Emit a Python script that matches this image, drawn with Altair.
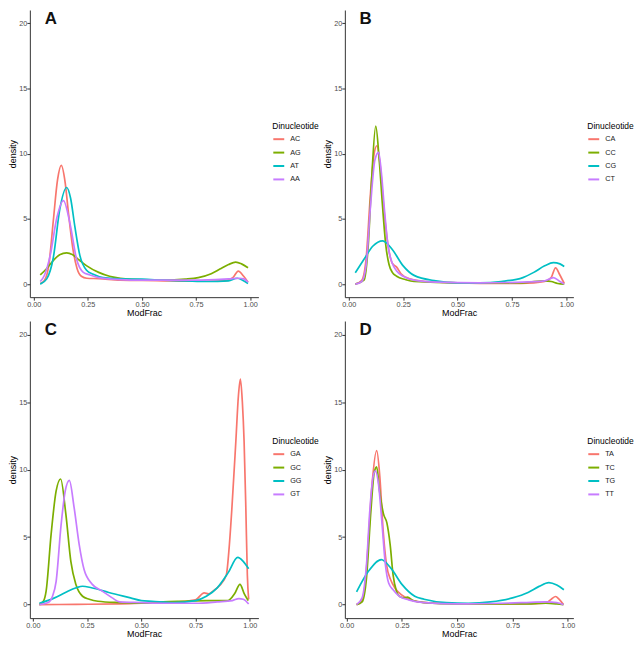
import altair as alt
import pandas as pd

COLORS = ["#F8766D", "#7CAE00", "#00BFC4", "#C77CFF"]

# ---------------- Panel A ----------------
A_NAMES = ["AC", "AG", "AT", "AA"]
AC_X = [0.03, 0.05, 0.07, 0.09, 0.11, 0.127, 0.145, 0.16, 0.18, 0.20, 0.22, 0.245, 0.30, 0.40, 0.50, 0.60, 0.70, 0.80, 0.88, 0.92, 0.945, 0.97, 0.99]
AC_Y = [0.05, 0.3, 1.5, 4.8, 8.0, 9.1, 7.8, 5.5, 2.8, 1.2, 0.6, 0.45, 0.42, 0.3, 0.28, 0.25, 0.22, 0.22, 0.25, 0.5, 1.0, 0.6, 0.15]
AG_X = [0.03, 0.06, 0.09, 0.12, 0.152, 0.18, 0.21, 0.245, 0.30, 0.35, 0.40, 0.50, 0.60, 0.70, 0.76, 0.82, 0.86, 0.90, 0.933, 0.96, 0.99]
AG_Y = [0.7, 1.2, 1.8, 2.25, 2.4, 2.25, 1.85, 1.4, 0.9, 0.6, 0.45, 0.32, 0.3, 0.38, 0.5, 0.8, 1.15, 1.5, 1.68, 1.55, 1.26]
AT_X = [0.03, 0.06, 0.09, 0.12, 0.152, 0.17, 0.19, 0.213, 0.244, 0.275, 0.32, 0.40, 0.50, 0.60, 0.70, 0.80, 0.90, 0.94, 0.965, 0.99]
AT_Y = [0.0, 0.4, 2.0, 5.7, 7.4, 6.6, 4.4, 2.2, 1.06, 0.75, 0.5, 0.4, 0.38, 0.3, 0.25, 0.2, 0.25, 0.45, 0.3, 0.05]
AA_X = [0.03, 0.05, 0.076, 0.107, 0.137, 0.168, 0.198, 0.229, 0.26, 0.30, 0.40, 0.50, 0.60, 0.75, 0.90, 0.95, 0.97, 0.99]
AA_Y = [0.2, 0.7, 2.2, 5.1, 6.4, 4.6, 1.9, 0.9, 0.7, 0.5, 0.35, 0.3, 0.3, 0.3, 0.4, 0.45, 0.4, 0.15]

# ---------------- Panel B ----------------
B_NAMES = ["CA", "CC", "CG", "CT"]
CA_X = [0.03, 0.06, 0.08, 0.10, 0.115, 0.129, 0.145, 0.16, 0.18, 0.20, 0.22, 0.24, 0.28, 0.35, 0.50, 0.70, 0.85, 0.90, 0.93, 0.95, 0.97, 0.99]
CA_Y = [0.0, 0.3, 2.0, 7.0, 9.8, 10.6, 9.0, 6.0, 3.0, 1.6, 1.3, 0.8, 0.4, 0.2, 0.1, 0.05, 0.1, 0.2, 0.5, 1.25, 0.7, 0.05]
CC_X = [0.03, 0.07, 0.09, 0.105, 0.124, 0.14, 0.155, 0.17, 0.185, 0.20, 0.22, 0.26, 0.30, 0.50, 0.80, 0.85, 0.90, 0.93, 0.96, 0.99]
CC_Y = [0.0, 0.3, 3.1, 8.0, 12.1, 9.5, 6.0, 3.0, 1.5, 0.9, 0.6, 0.35, 0.2, 0.1, 0.1, 0.2, 0.25, 0.2, 0.05, 0.0]
CG_X = [0.03, 0.07, 0.11, 0.156, 0.20, 0.25, 0.30, 0.40, 0.50, 0.60, 0.70, 0.80, 0.85, 0.90, 0.94, 0.97, 0.99]
CG_Y = [0.87, 1.9, 2.9, 3.32, 2.65, 1.4, 0.67, 0.25, 0.1, 0.1, 0.2, 0.5, 0.9, 1.4, 1.65, 1.55, 1.35]
CT_X = [0.03, 0.06, 0.08, 0.10, 0.12, 0.137, 0.15, 0.165, 0.18, 0.20, 0.22, 0.25, 0.30, 0.40, 0.60, 0.80, 0.90, 0.94, 0.97, 0.99]
CT_Y = [0.0, 0.2, 1.5, 6.0, 9.5, 10.1, 8.5, 5.5, 3.0, 1.6, 1.0, 0.6, 0.3, 0.15, 0.1, 0.15, 0.25, 0.5, 0.2, 0.0]

# ---------------- Panel C ----------------
C_NAMES = ["GA", "GC", "GG", "GT"]
GA_X = [0.03, 0.20, 0.40, 0.50, 0.60, 0.70, 0.75, 0.79, 0.81, 0.83, 0.86, 0.892, 0.905, 0.918, 0.936, 0.948, 0.957, 0.966, 0.974, 0.982, 0.989, 0.995]
GA_Y = [0.0, 0.02, 0.05, 0.1, 0.15, 0.25, 0.35, 0.87, 0.8, 1.0, 1.4, 2.2, 4.2, 7.2, 12.1, 15.5, 16.7, 15.0, 12.1, 7.2, 2.2, 0.4]
GC_X = [0.03, 0.05, 0.061, 0.084, 0.107, 0.128, 0.152, 0.175, 0.198, 0.229, 0.26, 0.30, 0.40, 0.50, 0.60, 0.70, 0.80, 0.86, 0.90, 0.93, 0.955, 0.975, 0.993]
GC_Y = [0.0, 0.3, 1.0, 5.2, 8.4, 9.3, 6.7, 3.2, 1.5, 0.62, 0.4, 0.25, 0.15, 0.1, 0.2, 0.25, 0.3, 0.3, 0.3, 0.8, 1.5, 0.8, 0.3]
GG_X = [0.03, 0.10, 0.15, 0.20, 0.229, 0.27, 0.35, 0.45, 0.50, 0.55, 0.65, 0.75, 0.80, 0.85, 0.90, 0.945, 0.97, 0.995]
GG_Y = [0.1, 0.5, 0.9, 1.25, 1.36, 1.25, 0.9, 0.5, 0.3, 0.25, 0.15, 0.3, 0.62, 1.24, 2.35, 3.5, 3.2, 2.65]
GT_X = [0.03, 0.07, 0.09, 0.107, 0.13, 0.149, 0.168, 0.19, 0.213, 0.236, 0.274, 0.32, 0.366, 0.40, 0.50, 0.60, 0.75, 0.85, 0.92, 0.95, 0.97, 0.995]
GT_Y = [0.0, 0.15, 0.6, 1.7, 5.9, 8.4, 9.2, 7.2, 4.5, 2.6, 1.5, 1.0, 0.5, 0.2, 0.15, 0.1, 0.1, 0.2, 0.3, 0.45, 0.4, 0.05]

# ---------------- Panel D ----------------
D_NAMES = ["TA", "TC", "TG", "TT"]
TA_X = [0.045, 0.07, 0.09, 0.10, 0.115, 0.136, 0.15, 0.165, 0.18, 0.20, 0.22, 0.25, 0.30, 0.40, 0.60, 0.80, 0.90, 0.925, 0.945, 0.96, 0.98]
TA_Y = [0.0, 0.3, 2.7, 5.2, 8.9, 11.4, 9.5, 5.5, 3.0, 1.8, 1.2, 0.7, 0.3, 0.1, 0.05, 0.05, 0.1, 0.4, 0.6, 0.4, 0.0]
TC_X = [0.045, 0.07, 0.09, 0.11, 0.125, 0.136, 0.149, 0.167, 0.182, 0.197, 0.21, 0.225, 0.24, 0.26, 0.275, 0.30, 0.35, 0.50, 0.80, 0.90, 0.95, 0.98]
TC_Y = [0.0, 0.2, 2.0, 7.0, 9.8, 10.2, 8.4, 6.7, 6.05, 4.4, 2.2, 1.0, 0.6, 0.5, 0.55, 0.3, 0.15, 0.05, 0.05, 0.1, 0.05, 0.0]
TG_X = [0.045, 0.10, 0.157, 0.20, 0.25, 0.308, 0.35, 0.45, 0.55, 0.65, 0.75, 0.82, 0.87, 0.914, 0.95, 0.982]
TG_Y = [0.94, 2.5, 3.33, 2.7, 1.5, 0.62, 0.4, 0.15, 0.1, 0.2, 0.5, 0.9, 1.35, 1.63, 1.45, 1.1]
TT_X = [0.045, 0.07, 0.09, 0.105, 0.12, 0.13, 0.145, 0.16, 0.175, 0.19, 0.21, 0.24, 0.28, 0.35, 0.50, 0.70, 0.80, 0.90, 0.95, 0.98]
TT_Y = [0.0, 0.5, 3.0, 7.0, 9.5, 9.9, 8.8, 6.0, 3.0, 1.6, 1.1, 0.6, 0.35, 0.15, 0.05, 0.1, 0.15, 0.2, 0.15, 0.0]

X_TICKS = [0, 0.25, 0.5, 0.75, 1.0]
Y_TICKS = [0, 5, 10, 15, 20]
FONT = "Liberation Sans"


def make_df(names, curves):
    rows = []
    for name, (xs, ys) in zip(names, curves):
        for i, (x, y) in enumerate(zip(xs, ys)):
            rows.append({"ModFrac": x, "density": y, "Dinucleotide": name, "i": i})
    return pd.DataFrame(rows)


def panel(letter, names, curves, xdom, w, h):
    df = make_df(names, curves)
    lines = alt.Chart(df).mark_line(interpolate="monotone", strokeWidth=1.7).encode(
        x=alt.X("ModFrac:Q",
                scale=alt.Scale(domain=xdom, nice=False, zero=False),
                axis=alt.Axis(values=X_TICKS, format=".2f", title="ModFrac")),
        y=alt.Y("density:Q",
                scale=alt.Scale(domain=[-1, 21], nice=False, zero=False),
                axis=alt.Axis(values=Y_TICKS, format="d", title="density")),
        color=alt.Color("Dinucleotide:N",
                        scale=alt.Scale(domain=names, range=COLORS),
                        sort=names,
                        legend=alt.Legend(orient="none", legendX=w + 14, legendY=round(h * 0.39),
                                          symbolType="stroke", symbolSize=121, symbolStrokeWidth=2,
                                          rowPadding=2.5, titlePadding=2,
                                          titleFontSize=8.5, titleFontWeight="normal", titleColor="#000",
                                          labelFontSize=7.3, labelColor="#222", labelOffset=5)),
        detail="Dinucleotide:N",
        order="i:Q",
    )
    lab = alt.Chart(pd.DataFrame({"t": [letter]})).mark_text(
        font=FONT, fontSize=17, fontWeight="bold", color="#111", align="center", baseline="alphabetic"
    ).encode(text="t:N", x=alt.value(21), y=alt.value(14))
    return alt.layer(lines, lab).properties(width=w, height=h)


W = 230
pA = panel("A", A_NAMES, [(AC_X, AC_Y), (AG_X, AG_Y), (AT_X, AT_Y), (AA_X, AA_Y)], [-0.018, 1.038], W, 289)
pB = panel("B", B_NAMES, [(CA_X, CA_Y), (CC_X, CC_Y), (CG_X, CG_Y), (CT_X, CT_Y)], [-0.018, 1.032], W, 289)
pC = panel("C", C_NAMES, [(GA_X, GA_Y), (GC_X, GC_Y), (GG_X, GG_Y), (GT_X, GT_Y)], [-0.014, 1.04], W, 299)
pD = panel("D", D_NAMES, [(TA_X, TA_Y), (TC_X, TC_Y), (TG_X, TG_Y), (TT_X, TT_Y)], [-0.008, 1.025], W, 299)

top = alt.hconcat(pA, pB, spacing=4).resolve_scale(color="independent")
bottom = alt.hconcat(pC, pD, spacing=4).resolve_scale(color="independent")
chart = alt.vconcat(top, bottom, spacing=3).resolve_scale(color="independent").configure(
    font=FONT
).configure_view(stroke=None).configure_axis(
    grid=False,
    domainColor="#333333", domainWidth=1,
    tickColor="#333333", tickSize=3, tickWidth=1,
    labelFont=FONT, labelFontSize=7.3, labelColor="#4D4D4D", labelPadding=0,
    titleFont=FONT, titleFontSize=9, titleFontWeight="normal", titleColor="#000", titlePadding=1,
).configure_legend(
    titleFontWeight="normal", titleFont=FONT, labelFont=FONT
).properties(padding=0)

chart.save("out.html", embed_options={"renderer": "svg", "actions": False})
